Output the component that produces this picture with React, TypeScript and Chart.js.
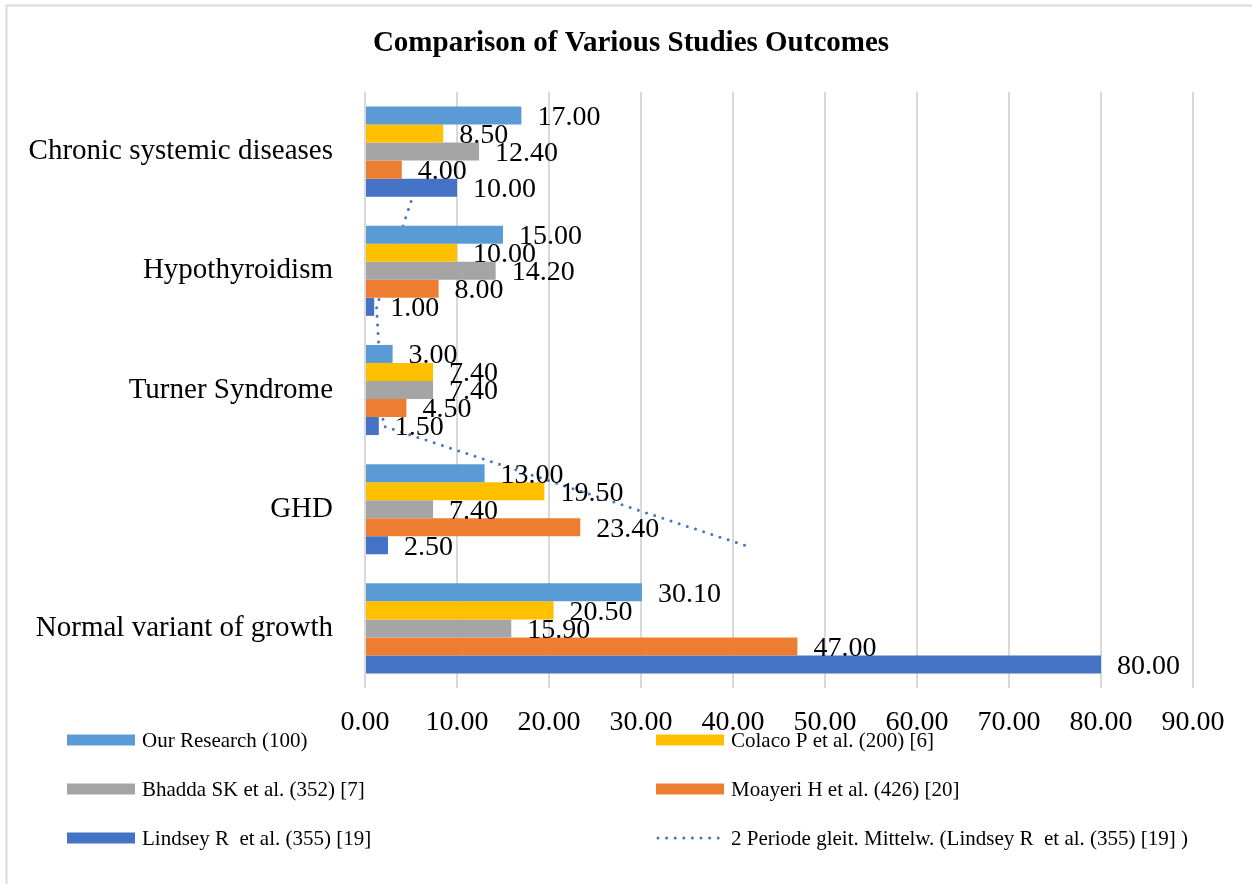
import React, { useEffect, useRef } from 'react';
import { Chart, registerables } from 'chart.js';

Chart.register(...registerables);

const SERIF = '"Liberation Serif", "Times New Roman", serif';

// Categories top-to-bottom (as they appear in the picture)
const categories = [
  'Chronic systemic diseases',
  'Hypothyroidism',
  'Turner Syndrome',
  'GHD',
  'Normal variant of growth',
];

// Series values, per category (same order as categories)
const ourResearch = [17.0, 15.0, 3.0, 13.0, 30.1];
const colaco = [8.5, 10.0, 7.4, 19.5, 20.5];
const bhadda = [12.4, 14.2, 7.4, 7.4, 15.9];
const moayeri = [4.0, 8.0, 4.5, 23.4, 47.0];
const lindsey = [10.0, 1.0, 1.5, 2.5, 80.0];

const seriesNames = [
  'Our Research (100)',
  'Colaco P et al. (200) [6]',
  'Bhadda SK et al. (352) [7]',
  'Moayeri H et al. (426) [20]',
  'Lindsey R  et al. (355) [19]',
];
const seriesColors = ['#5B9BD5', '#FFC000', '#A5A5A5', '#ED7D31', '#4472C4'];

// Moving-average trendline (2 periods) of the Lindsey series
const trendCategories = ['GHD', 'Turner Syndrome', 'Hypothyroidism', 'Chronic systemic diseases'];
const trendValues = [41.25, 2.0, 1.25, 5.5];
const trendName = '2 Periode gleit. Mittelw. (Lindsey R  et al. (355) [19] )';

const titleText = 'Comparison of Various Studies Outcomes';

// x-axis ticks
const xMin = 0;
const xMax = 90;
const xStep = 10;

const CAT_PCT = 0.756;

const backgroundPlugin = {
  id: 'bgBorder',
  beforeDraw(chart: any) {
    const { ctx, width, height } = chart;
    ctx.save();
    ctx.fillStyle = '#ffffff';
    ctx.fillRect(0, 0, width, height);
    ctx.strokeStyle = '#d9d9d9';
    ctx.lineWidth = 2;
    ctx.strokeRect(6.5, 5.5, width + 10, height + 10);
    ctx.restore();
  },
};

const titlePlugin = {
  id: 'customTitle',
  afterDraw(chart: any) {
    const ctx = chart.ctx;
    ctx.save();
    ctx.font = `bold 29px ${SERIF}`;
    ctx.fillStyle = '#000000';
    ctx.textAlign = 'center';
    ctx.textBaseline = 'middle';
    ctx.fillText(titleText, 631, 44);
    ctx.restore();
  },
};

const dataLabelPlugin = {
  id: 'dataLabels',
  afterDatasetsDraw(chart: any) {
    const ctx = chart.ctx;
    ctx.save();
    ctx.font = `28px ${SERIF}`;
    ctx.fillStyle = '#000000';
    ctx.textAlign = 'left';
    ctx.textBaseline = 'middle';
    chart.data.datasets.forEach((ds: any, i: number) => {
      if (ds.type === 'line') return;
      const meta = chart.getDatasetMeta(i);
      meta.data.forEach((el: any, j: number) => {
        const v = ds.data[j] as number;
        ctx.fillText(v.toFixed(2), el.x + 16, el.y + 2);
      });
    });
    ctx.restore();
  },
};

const legendPlugin = {
  id: 'customLegend',
  afterDraw(chart: any) {
    const ctx = chart.ctx;
    const items = [
      ...seriesNames.map((n, i) => ({ text: n, color: seriesColors[i], dotted: false })),
      { text: trendName, color: '#4472C4', dotted: true },
    ];
    const colX = [67, 656];
    const rowY = [740, 789, 838];
    const swW = 68;
    const swH = 11;
    ctx.save();
    ctx.font = `21px ${SERIF}`;
    ctx.textBaseline = 'middle';
    ctx.textAlign = 'left';
    items.forEach((it, k) => {
      const x = colX[k % 2];
      const y = rowY[Math.floor(k / 2)];
      if (it.dotted) {
        ctx.save();
        ctx.strokeStyle = it.color;
        ctx.lineWidth = 3;
        ctx.lineCap = 'round';
        ctx.setLineDash([0, 8.6]);
        ctx.beginPath();
        ctx.moveTo(x + 2, y);
        ctx.lineTo(x + swW - 2, y);
        ctx.stroke();
        ctx.restore();
      } else {
        ctx.fillStyle = it.color;
        ctx.fillRect(x, y - swH / 2, swW, swH);
      }
      ctx.fillStyle = '#000000';
      ctx.fillText(it.text, x + swW + 7, y + 1);
    });
    ctx.restore();
  },
};

export default function App() {
  const canvasRef = useRef<HTMLCanvasElement | null>(null);

  useEffect(() => {
    if (!canvasRef.current) return;
    const seriesData = [ourResearch, colaco, bhadda, moayeri, lindsey];
    // centre of the Lindsey (last) bar inside a category band, in category units
    const lastBarOffset = CAT_PCT * ((seriesData.length - 0.5) / seriesData.length - 0.5);
    const trendPoints = trendCategories.map((c, i) => ({
      x: trendValues[i],
      y: categories.indexOf(c) + lastBarOffset,
    }));

    const datasets: any[] = seriesData.map((d, i) => ({
      type: 'bar',
      label: seriesNames[i],
      data: d,
      indexAxis: 'y',
      xAxisID: 'x',
      yAxisID: 'y',
      backgroundColor: seriesColors[i],
      borderWidth: 0,
      categoryPercentage: CAT_PCT,
      barPercentage: 1.0,
      order: 1,
    }));
    datasets.push({
      type: 'line',
      label: trendName,
      data: trendPoints,
      indexAxis: 'y',
      xAxisID: 'x',
      yAxisID: 'y2',
      borderColor: '#4472C4',
      borderWidth: 3,
      borderDash: [0, 8.6],
      borderCapStyle: 'round',
      pointRadius: 0,
      fill: false,
      tension: 0,
      order: 2,
    });

    const chart = new Chart(canvasRef.current, {
      type: 'bar',
      data: { labels: categories, datasets },
      options: {
        // chart-level index axis kept at 'x' so that the hidden trendline axis
        // is not counted as a second bar group axis; datasets are horizontal.
        indexAxis: 'x',
        responsive: false,
        animation: false,
        devicePixelRatio: 1,
        layout: { padding: { left: 0, right: 59, top: 92, bottom: 0 } },
        scales: {
          x: {
            type: 'linear',
            position: 'bottom',
            offset: false,
            min: xMin,
            max: xMax,
            ticks: {
              stepSize: xStep,
              color: '#000000',
              font: { size: 28, family: SERIF },
              padding: 18,
              callback: (v: any) => Number(v).toFixed(2),
            },
            grid: { color: '#d9d9d9', lineWidth: 2, drawTicks: false, offset: false },
            border: { display: false },
            afterFit: (scale: any) => {
              scale.height = 196;
            },
          },
          y: {
            type: 'category',
            position: 'left',
            offset: true,
            ticks: {
              color: '#000000',
              font: { size: 29, family: SERIF },
              padding: 32,
            },
            grid: { display: false, drawTicks: false, offset: true },
            border: { display: false },
            afterFit: (scale: any) => {
              scale.width = 365;
            },
          },
          y2: {
            type: 'linear',
            display: false,
            offset: false,
            min: -0.5,
            max: categories.length - 0.5,
            reverse: true,
          },
        },
        plugins: {
          legend: { display: false },
          tooltip: { enabled: false },
          title: { display: false },
        },
      } as any,
      plugins: [backgroundPlugin, dataLabelPlugin, legendPlugin, titlePlugin],
    });
    return () => chart.destroy();
  }, []);

  return (
    <div style={{ position: 'absolute', left: 0, top: 0, width: 1252, height: 884 }}>
      <canvas ref={canvasRef} width={1252} height={884} style={{ display: 'block' }} />
    </div>
  );
}
